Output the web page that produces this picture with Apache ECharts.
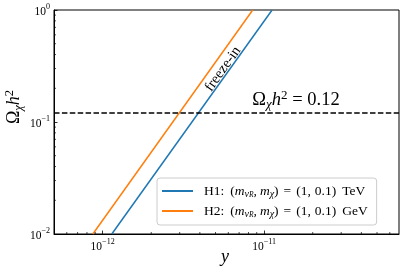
<!DOCTYPE html>
<html><head><meta charset="utf-8">
<script src="https://cdn.jsdelivr.net/npm/echarts@6/dist/echarts.min.js"></script>
<style>html,body{margin:0;padding:0;background:#fff}#c{width:407px;height:274px}</style>
</head><body><div id="c"></div>
<script>
// ---- data ----
const seriesNames = ['H1', 'H2'];
const h1Points = [[1.14e-12, 0.01], [1.12e-11, 1]];
const h2Points = [[8.7e-13, 0.01], [8.5e-12, 1]];
const relicValue = 0.12;
const xRange = [5e-13, 6.84e-11];
const yRange = [0.01, 1];
const xMinorTicks = [6e-13, 7e-13, 8e-13, 9e-13, 2e-12, 3e-12, 4e-12, 5e-12, 6e-12, 7e-12, 8e-12, 9e-12, 2e-11, 3e-11, 4e-11, 5e-11, 6e-11];
const yMinorTicks = [0.02, 0.03, 0.04, 0.05, 0.06, 0.07, 0.08, 0.09, 0.2, 0.3, 0.4, 0.5, 0.6, 0.7, 0.8, 0.9];
const legendUnits = { H1: 'TeV', H2: 'GeV' };
const annotationText = 'freeze-in';

const SERIF = 'Liberation Serif';
const BLUE = '#1f77b4', ORANGE = '#ff7f0e';

function legendLabel(name) {
  return '{r|' + name + ':}{lp|(}{i|m}{sb|ν}{ss|R}{cm|,}{i|m}{sb|χ}{r|)}{eq|=}{r|(1,}{sp1|0.1)}{un|' + legendUnits[name] + '}';
}

function powLabel(v) {
  const e = Math.log10(v);
  const r = Math.round(e);
  if (Math.abs(e - r) > 1e-6) return '';
  return '{b|10}{s|' + (r < 0 ? '\u2212' + (-r) : r) + '}';
}
const tickRich = {
  b: { fontFamily: SERIF, fontSize: 11.5, lineHeight: 15, verticalAlign: 'bottom', color: '#000' },
  s: { fontFamily: SERIF, fontSize: 8, lineHeight: 7, verticalAlign: 'top', color: '#000' }
};
const mathRich = {
  r: { fontFamily: SERIF, fontSize: 18.5, lineHeight: 22, color: '#000' },
  i: { fontFamily: SERIF, fontStyle: 'italic', fontSize: 18.5, lineHeight: 22, color: '#000' },
  sb: { fontFamily: SERIF, fontStyle: 'italic', fontSize: 13, lineHeight: 10, verticalAlign: 'bottom', color: '#000' },
  sp: { fontFamily: SERIF, fontSize: 13, lineHeight: 10, verticalAlign: 'top', color: '#000' }
};
const ylabRich = {
  r: { fontFamily: SERIF, fontSize: 18, lineHeight: 22, color: '#000' },
  i: { fontFamily: SERIF, fontStyle: 'italic', fontSize: 18, lineHeight: 22, color: '#000' },
  sb: { fontFamily: SERIF, fontStyle: 'italic', fontSize: 12.5, lineHeight: 10, verticalAlign: 'bottom', color: '#000' },
  sp: { fontFamily: SERIF, fontSize: 12.5, lineHeight: 10, verticalAlign: 'top', color: '#000' }
};
const LFS = 13.5;
const legendRich = {
  r: { fontFamily: SERIF, fontSize: LFS, lineHeight: 16, color: '#000' },
  lp: { fontFamily: SERIF, fontSize: LFS, lineHeight: 16, color: '#000', padding: [0, 0, 0, 6] },
  i: { fontFamily: SERIF, fontStyle: 'italic', fontSize: LFS, lineHeight: 16, color: '#000' },
  cm: { fontFamily: SERIF, fontSize: LFS, lineHeight: 16, color: '#000', padding: [0, 3, 0, 0] },
  eq: { fontFamily: SERIF, fontSize: LFS, lineHeight: 16, color: '#000', padding: [0, 5, 0, 5] },
  sp1: { fontFamily: SERIF, fontSize: LFS, lineHeight: 16, color: '#000', padding: [0, 0, 0, 4] },
  un: { fontFamily: SERIF, fontSize: LFS, lineHeight: 16, color: '#000', padding: [0, 0, 0, 6] },
  sb: { fontFamily: SERIF, fontStyle: 'italic', fontSize: 10, lineHeight: 8, verticalAlign: 'bottom', color: '#000' },
  ss: { fontFamily: SERIF, fontStyle: 'italic', fontSize: 7.5, lineHeight: 3, verticalAlign: 'bottom', color: '#000' }
};

function minorTickSeries(values, isX) {
  return {
    type: 'custom', coordinateSystem: 'cartesian2d', clip: false, silent: true, z: 5,
    data: values.map(v => isX ? [v, yRange[0]] : [xRange[0], v]),
    renderItem: (params, api) => {
      const p = api.coord([api.value(0), api.value(1)]);
      const shape = isX ? { x1: p[0], y1: p[1], x2: p[0], y2: p[1] - 2 }
                        : { x1: p[0], y1: p[1], x2: p[0] + 2, y2: p[1] };
      return { type: 'line', shape, style: { stroke: '#000', lineWidth: 0.7 } };
    }
  };
}

const chart = echarts.init(document.getElementById('c'), null, { renderer: 'canvas' });
chart.setOption({
  animation: false,
  backgroundColor: '#fff',
  grid: { left: 54, right: 8, top: 10, bottom: 40, show: true, borderColor: '#000', borderWidth: 1, backgroundColor: 'transparent' },
  xAxis: {
    type: 'log', logBase: 10, min: xRange[0], max: xRange[1],
    axisLine: { show: true, lineStyle: { color: '#000', width: 1 } },
    axisTick: { show: true, inside: true, length: 3.5, lineStyle: { color: '#000', width: 0.8 } },
    axisLabel: { show: true, margin: 4, formatter: powLabel, rich: tickRich, showMinLabel: false, showMaxLabel: false },
    splitLine: { show: false }
  },
  yAxis: {
    type: 'log', logBase: 10, min: yRange[0], max: yRange[1],
    axisLine: { show: true, lineStyle: { color: '#000', width: 1 } },
    axisTick: { show: true, inside: true, length: 3.5, lineStyle: { color: '#000', width: 0.8 } },
    axisLabel: { show: true, margin: 4, formatter: powLabel, rich: tickRich },
    splitLine: { show: false }
  },
  legend: {
    data: seriesNames,
    orient: 'vertical', left: 157, top: 178,
    padding: [6, 9, 6, 5], itemGap: 5,
    itemWidth: 31, itemHeight: 2, icon: 'rect',
    borderColor: '#cccccc', borderWidth: 1, borderRadius: 3,
    backgroundColor: 'rgba(255,255,255,0.8)',
    formatter: legendLabel,
    textStyle: { rich: legendRich, padding: [0, 0, 0, 6] }
  },
  series: [
    { name: seriesNames[0], type: 'line', data: h1Points, symbol: 'none', color: BLUE, lineStyle: { width: 1.5, color: BLUE }, z: 3 },
    { name: seriesNames[1], type: 'line', data: h2Points, symbol: 'none', color: ORANGE, lineStyle: { width: 1.5, color: ORANGE }, z: 3,
      markLine: { silent: true, symbol: 'none', label: { show: false },
        lineStyle: { color: '#000', type: [5.5, 2.4], width: 1.5 },
        data: [{ yAxis: relicValue }] } },
    minorTickSeries(xMinorTicks, true),
    minorTickSeries(yMinorTicks, false)
  ],
  graphic: [
    { type: 'text', x: 223, y: 69, rotation: 54.5 * Math.PI / 180,
      style: { text: annotationText, font: '14.5px "' + SERIF + '"', fill: '#000', align: 'center', verticalAlign: 'middle' } },
    { type: 'text', x: 296, y: 100,
      style: { text: '{r|Ω}{sb|χ}{i|h}{sp|2}{r| = 0.12}', rich: mathRich, align: 'center', verticalAlign: 'middle' } },
    { type: 'text', x: 14, y: 107, rotation: Math.PI / 2,
      style: { text: '{r|Ω}{sb|χ}{i|h}{sp|2}', rich: ylabRich, align: 'center', verticalAlign: 'middle' } },
    { type: 'text', x: 225, y: 257,
      style: { text: 'y', font: 'italic 18px "' + SERIF + '"', fill: '#000', align: 'center', verticalAlign: 'middle' } }
  ]
});
</script>
</body></html>
